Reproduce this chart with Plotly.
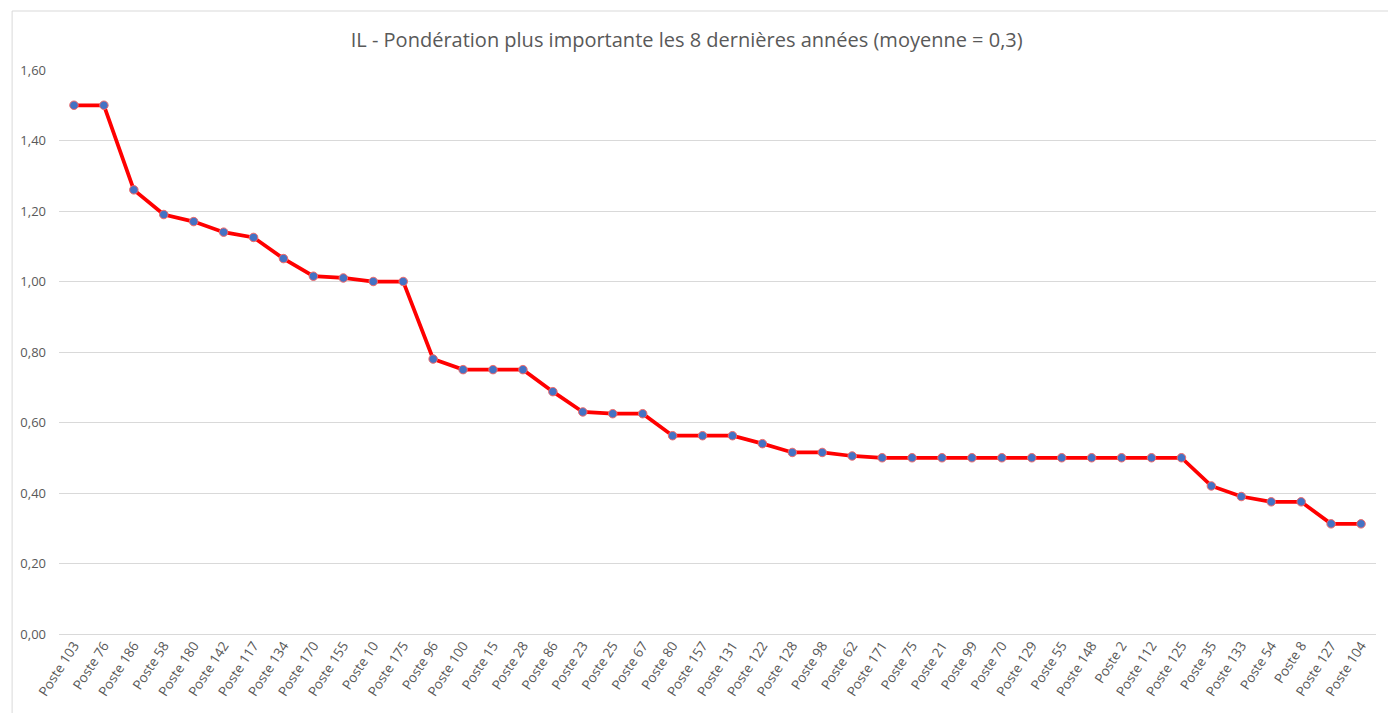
import plotly.graph_objects as go

postes = ["103", "76", "186", "58", "180", "142", "117", "134", "170", "155", "10", "175",
          "96", "100", "15", "28", "86", "23", "25", "67", "80", "157", "131", "122",
          "128", "98", "62", "171", "75", "21", "99", "70", "129", "55", "148", "2",
          "112", "125", "35", "133", "54", "8", "127", "104"]
categories = ["Poste " + p for p in postes]
values = [1.50, 1.50, 1.26, 1.19, 1.17, 1.14, 1.125, 1.065, 1.015, 1.01, 1.00, 1.00,
          0.78, 0.75, 0.75, 0.75, 0.6875, 0.63, 0.625, 0.625, 0.5625, 0.5625, 0.5625, 0.54,
          0.515, 0.515, 0.505, 0.50, 0.50, 0.50, 0.50, 0.50, 0.50, 0.50, 0.50, 0.50,
          0.50, 0.50, 0.42, 0.39, 0.375, 0.375, 0.3125, 0.3125]
title = "IL - Pondération plus importante les 8 dernières années (moyenne = 0,3)"
y_ticks = [0, 0.2, 0.4, 0.6, 0.8, 1.0, 1.2, 1.4, 1.6]

fig = go.Figure()
fig.add_trace(go.Scatter(
    x=categories, y=values, mode="lines+markers",
    line=dict(color="#FF0000", width=3.75),
    marker=dict(color="#4472C4", size=8.5, line=dict(color="#F26A6A", width=1)),
    showlegend=False,
))

fig.update_layout(
    width=1388, height=705,
    margin=dict(l=48, r=20, t=62, b=79),
    paper_bgcolor="white", plot_bgcolor="white",
    separators=", ",
    title=dict(text=title, x=0.489, xref="container", xanchor="center", y=0.955, yanchor="middle",
               font=dict(family="Open Sans", size=20, color="#595959")),
    font=dict(family="Open Sans", color="#595959"),
    xaxis=dict(type="category", tickangle=-57, tickfont=dict(size=13.5, color="#595959"),
               showgrid=False, showline=False, ticks="", range=[-0.5, len(categories) - 0.5]),
    yaxis=dict(range=[0, 1.6], tickvals=y_ticks, tickformat=".2f",
               tickfont=dict(size=13, color="#595959"),
               showgrid=True, gridcolor="#D9D9D9", gridwidth=1,
               zeroline=True, zerolinecolor="#D9D9D9", zerolinewidth=1,
               showline=False, ticks="", ticklabelstandoff=12),
    shapes=[dict(type="rect", xref="paper", yref="paper",
                 x0=-0.0356, x1=1.0114, y0=-0.17, y1=1.1046,
                 line=dict(color="#D9D9D9", width=1), fillcolor="rgba(0,0,0,0)", layer="below")],
)

fig.write_html("out.html")
